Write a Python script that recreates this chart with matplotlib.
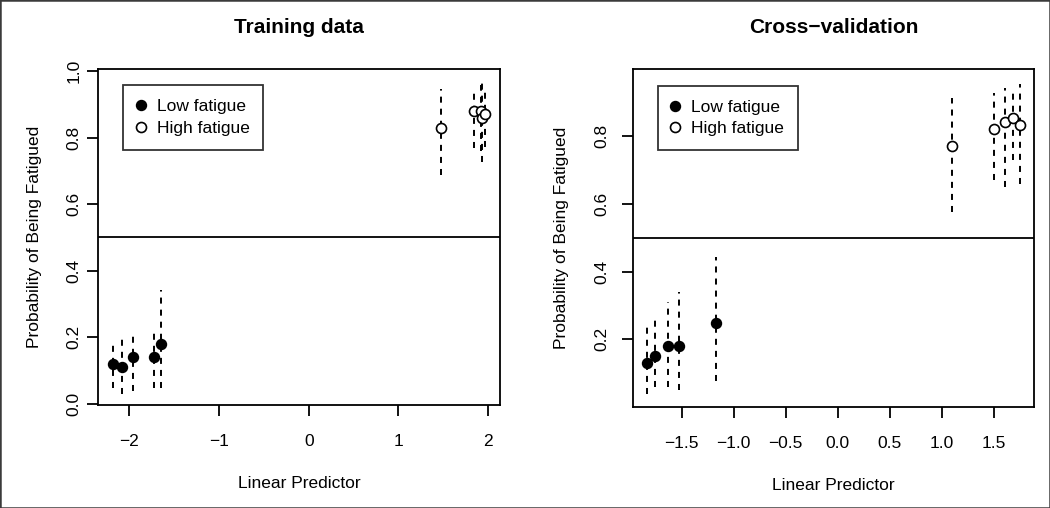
import numpy as np
import matplotlib
matplotlib.use('Agg')
import matplotlib.pyplot as plt
from matplotlib.lines import Line2D
from matplotlib.patches import Rectangle

plt.rcParams['font.family'] = ['Liberation Sans', 'DejaVu Sans']
plt.rcParams['axes.unicode_minus'] = True

# Training data: linear predictor, predicted probability, interval
train_low_x = [-2.185, -2.08, -1.96, -1.72, -1.65]
train_low_p = [0.12, 0.11, 0.14, 0.14, 0.18]
train_low_lo = [0.047, 0.030, 0.039, 0.049, 0.049]
train_low_hi = [0.187, 0.202, 0.215, 0.226, 0.342]

train_high_x = [1.475, 1.846, 1.917, 1.93, 1.97]
train_high_p = [0.83, 0.88, 0.88, 0.86, 0.87]
train_high_lo = [0.687, 0.768, 0.76, 0.728, 0.773]
train_high_hi = [0.945, 0.945, 0.958, 0.971, 0.953]

# Cross-validation
cv_low_x = [-1.829, -1.752, -1.627, -1.524, -1.172]
cv_low_p = [0.129, 0.150, 0.180, 0.180, 0.249]
cv_low_lo = [0.039, 0.058, 0.058, 0.049, 0.078]
cv_low_hi = [0.249, 0.271, 0.310, 0.341, 0.442]

cv_high_x = [1.095, 1.505, 1.610, 1.684, 1.751]
cv_high_p = [0.770, 0.821, 0.841, 0.852, 0.832]
cv_high_lo = [0.577, 0.670, 0.650, 0.729, 0.658]
cv_high_hi = [0.911, 0.926, 0.943, 0.943, 0.953]

LW = 1.3
FS = 12.5

fig = plt.figure(figsize=(10.5, 5.08), dpi=100)
fig.patches.append(Rectangle((0, 0), 1, 1, transform=fig.transFigure,
                             fill=False, edgecolor='#3a3a3a', linewidth=1.8))


def panel(rect, title, xlim, ylim, xticks, yticks, lx, lp, llo, lhi,
          hx, hp, hlo, hhi, ylab_x, ypad):
    ax = fig.add_axes(rect)
    for i in range(len(lx)):
        ax.plot([lx[i], lx[i]], [llo[i], lhi[i]], color='black', lw=1.4,
                dashes=(3.1, 3.1), zorder=2)
    for i in range(len(hx)):
        ax.plot([hx[i], hx[i]], [hlo[i], hhi[i]], color='black', lw=1.4,
                dashes=(3.1, 3.1), zorder=2)
    ax.plot(lx, lp, 'o', ms=7.2, mfc='black', mec='black', mew=1.0, zorder=3,
            linestyle='none')
    ax.plot(hx, hp, 'o', ms=7.2, mfc='white', mec='black', mew=1.2, zorder=3,
            linestyle='none')
    ax.axhline(0.5, color='black', lw=LW)
    ax.set_xlim(xlim)
    ax.set_ylim(ylim)
    ax.set_xticks(xticks)
    ax.set_yticks(yticks)
    if any(abs(t - round(t)) > 1e-9 for t in xticks):
        ax.set_xticklabels(['%.1f' % t if t >= 0 else '\u2212%.1f' % -t for t in xticks])
    for s in ax.spines.values():
        s.set_linewidth(LW)
    ax.tick_params(direction='out', length=8, width=LW, labelsize=FS)
    ax.tick_params(axis='x', pad=13)
    ax.tick_params(axis='y', pad=ypad)
    plt.setp(ax.get_yticklabels(), rotation=90, va='center')
    ax.set_title(title, fontsize=15, fontweight='bold', pad=26)
    ax.set_xlabel('Linear Predictor', fontsize=FS)
    ax.xaxis.set_label_coords(0.5, -0.21)
    ax.set_ylabel('Probability of Being Fatigued', fontsize=FS)
    ax.yaxis.set_label_coords(ylab_x, 0.5)

    handles = [Line2D([], [], marker='o', ls='none', ms=7.2, mfc='black', mec='black'),
               Line2D([], [], marker='o', ls='none', ms=7.2, mfc='white', mec='black', mew=1.2)]
    leg = ax.legend(handles, ['Low fatigue', 'High fatigue'], loc='upper left',
                    bbox_to_anchor=(0.063, 0.951), fontsize=FS, frameon=True,
                    fancybox=False, handlelength=0.4, handletextpad=0.72,
                    borderpad=0.8, labelspacing=0.35, borderaxespad=0)
    leg.get_frame().set_edgecolor('black')
    leg.get_frame().set_linewidth(LW)
    return ax


panel([0.0933, 0.2028, 0.3829, 0.6614], 'Training data', (-2.35, 2.133),
      (-0.003, 1.006), [-2, -1, 0, 1, 2], [0.0, 0.2, 0.4, 0.6, 0.8, 1.0],
      train_low_x, train_low_p, train_low_lo, train_low_hi,
      train_high_x, train_high_p, train_high_lo, train_high_hi, -0.139, 4)

panel([0.6026, 0.1994, 0.3825, 0.6642], 'Cross\u2212validation', (-1.969, 1.889),
      (0.001, 0.997), [-1.5, -1.0, -0.5, 0.0, 0.5, 1.0, 1.5], [0.2, 0.4, 0.6, 0.8],
      cv_low_x, cv_low_p, cv_low_lo, cv_low_hi,
      cv_high_x, cv_high_p, cv_high_lo, cv_high_hi, -0.1586, 9)

fig.savefig('out.png', dpi=100)
